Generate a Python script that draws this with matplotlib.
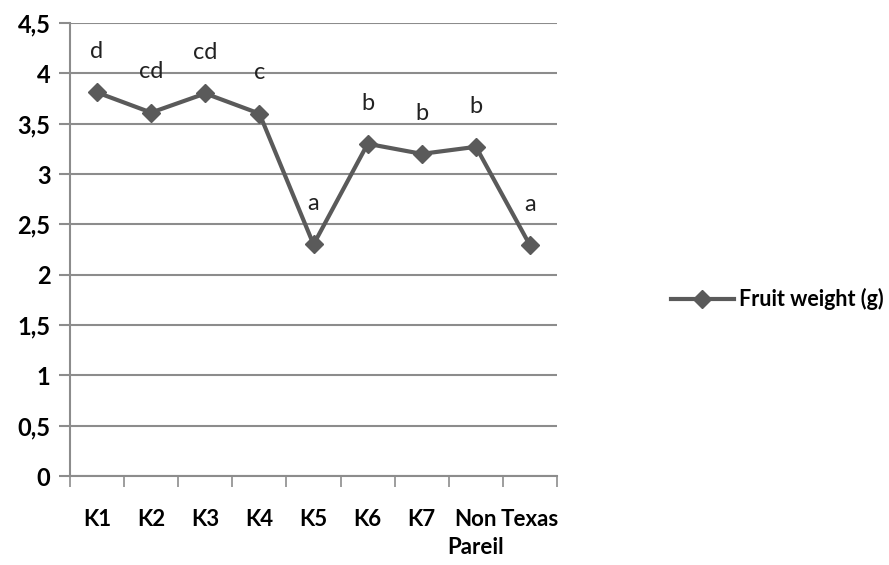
import numpy as np
import matplotlib.pyplot as plt
from matplotlib.ticker import FuncFormatter, FixedLocator

# data
kategoriat = ["K1", "K2", "K3", "K4", "K5", "K6", "K7", "Non\nPareil", "Texas"]
paino = [3.81, 3.61, 3.80, 3.60, 2.30, 3.30, 3.20, 3.27, 2.29]
kirjaimet = ["d", "cd", "cd", "c", "a", "b", "b", "b", "a"]
yticks = [0, 0.5, 1, 1.5, 2, 2.5, 3, 3.5, 4, 4.5]

plt.rcParams['font.family'] = ['Lato', 'DejaVu Sans']

harmaa = "#5a5a5a"
viiva = "#8c8c8c"

fig = plt.figure(figsize=(8.89, 5.65), dpi=100)
ax = fig.add_axes([0.0787, 0.1575, 0.548, 0.8018])

x = np.arange(len(kategoriat))
ax.plot(x, paino, color=harmaa, lw=3, marker="D", ms=9,
        label="Fruit weight (g)")

# significance letters above the points
for xi, yi, k in zip(x, paino, kirjaimet):
    ax.text(xi, yi + 0.3, k, ha="center", va="bottom", fontsize=17,
            color="#222222")

ax.set_xlim(-0.5, len(kategoriat) - 0.5)
ax.set_ylim(0, 4.5)
ax.set_yticks(yticks)
ax.yaxis.set_major_formatter(FuncFormatter(lambda v, p: f"{v:g}".replace(".", ",")))
ax.grid(axis="y", color=viiva, lw=1.5)
ax.set_axisbelow(True)

ax.set_xticks(x)
ax.set_xticklabels(kategoriat, fontweight="bold", fontsize=16, va="top",
                   linespacing=1.4)
ax.xaxis.set_minor_locator(FixedLocator(np.arange(-0.5, len(kategoriat), 1)))
ax.tick_params(axis="x", which="major", length=0, pad=24)
ax.tick_params(axis="x", which="minor", length=8, color=viiva, width=1.2)
ax.tick_params(axis="y", length=8, color=viiva, width=1.5, pad=6,
               labelsize=17)
for t in ax.get_yticklabels():
    t.set_fontweight("bold")

for s in ["top", "right"]:
    ax.spines[s].set_visible(False)
for s in ["left", "bottom"]:
    ax.spines[s].set_color(viiva)
    ax.spines[s].set_linewidth(1.5)

leg = ax.legend(loc="center left", bbox_to_anchor=(0.755, 0.47),
                bbox_transform=fig.transFigure, frameon=False,
                handlelength=2.9, handletextpad=0.25, borderaxespad=0,
                borderpad=0, prop={"weight": "bold", "size": 15.5})

fig.savefig("out.png", dpi=100)
